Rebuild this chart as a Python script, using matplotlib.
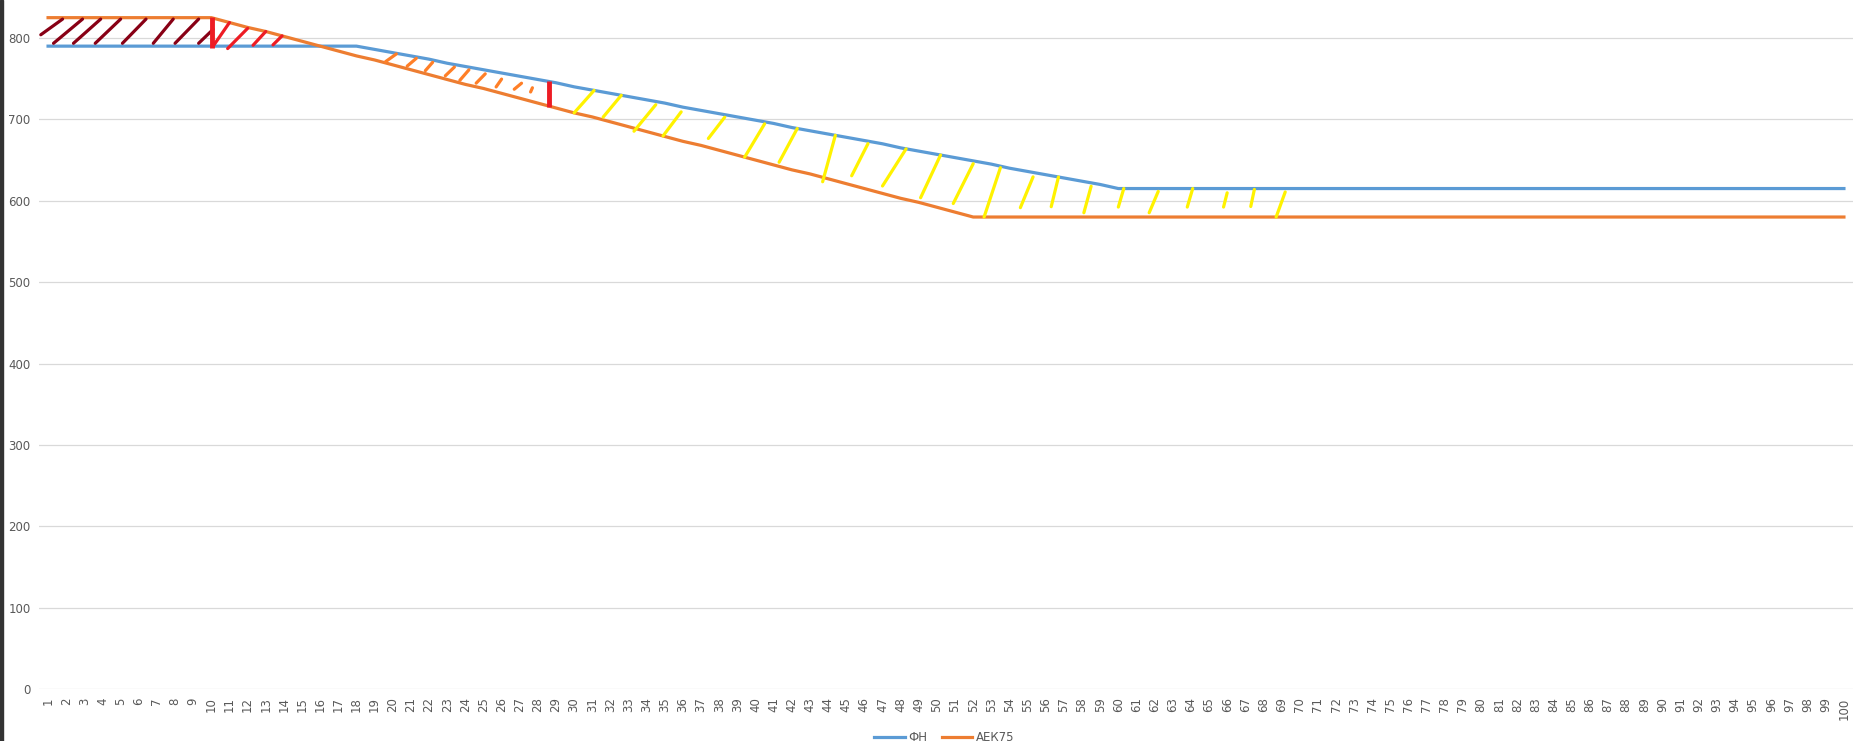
# ФН vs АЕК75 profile with hand-drawn hatching

import numpy as np
import matplotlib.pyplot as plt
from matplotlib.patches import Rectangle

cats = np.arange(1, 101)

# ФН (blue): flat, then sloping down, then flat
fn_vals = [790] * 18 + [
    786, 782, 778, 774, 769, 765, 761, 757, 753, 749, 745, 740, 736, 732,
    728, 724, 720, 715, 711, 707, 703, 699, 695, 690, 686, 682, 678, 674,
    670, 665, 661, 657, 653, 649, 645, 640, 636, 632, 628, 624, 620] + [615] * 41

# АЕК75 (orange)
aek_vals = [825] * 10 + [
    819, 813, 808, 802, 796, 790, 784, 778, 773, 767, 761, 755, 749, 743,
    738, 732, 726, 720, 714, 708, 703, 697, 691, 685, 679, 673, 668, 662,
    656, 650, 644, 638, 633, 627, 621, 615, 609, 603, 598, 592, 586] + [580] * 49

# hand-drawn strokes: category start/end, fraction between the two lines (0 lower, 1 upper)
darkred_x0 = [0.6, 1.3, 2.4, 3.6, 5.1, 6.8, 8.0, 9.3]
darkred_x1 = [1.8, 2.9, 3.9, 5.0, 6.4, 7.9, 9.3, 10.1]
darkred_f0 = [0.4, 0.1, 0.1, 0.1, 0.1, 0.1, 0.1, 0.1]
darkred_f1 = [0.95, 0.95, 0.95, 0.95, 0.95, 0.95, 0.95, 0.6]

red_x0 = [10.1, 10.9, 12.3, 13.4]
red_x1 = [11.0, 12.0, 13.0, 13.9]
red_f0 = [0.0, -0.1, 0.05, 0.1]
red_f1 = [1.0, 0.95, 1.0, 1.0]

orange_x0 = [19.6, 20.8, 21.8, 22.9, 23.7, 24.6, 25.7, 26.7, 27.6]
orange_x1 = [20.2, 21.3, 22.2, 23.4, 24.2, 25.1, 26.0, 27.1, 27.7]
orange_f0 = [0.1, 0.2, 0.2, 0.2, 0.15, 0.2, 0.25, 0.35, 0.4]
orange_f1 = [0.95, 0.9, 0.85, 0.85, 0.85, 0.8, 0.7, 0.7, 0.6]

yellow_x0 = [30.0, 31.6, 33.3, 34.9, 37.4, 39.4, 41.3, 43.7, 45.3, 47.0, 49.1,
             50.9, 52.6, 54.6, 56.3, 58.1, 60.0, 61.7, 63.8, 65.8, 67.3, 68.7]
yellow_x1 = [31.1, 32.6, 34.5, 35.9, 38.3, 40.5, 42.3, 44.4, 46.2, 48.3, 50.2,
             52.0, 53.5, 55.3, 56.7, 58.5, 60.3, 62.2, 64.1, 66.0, 67.5, 69.2]
yellow_f0 = [0, 0.1, -0.1, 0, 0.25, 0, 0.1, -0.1, 0.2, 0.15, 0.1,
             0.15, 0, 0.2, 0.25, 0.12, 0.35, 0.15, 0.35, 0.35, 0.37, 0]
yellow_f1 = [1, 1, 0.9, 0.85, 0.93, 0.95, 1, 1, 0.95, 1, 1,
             0.95, 0.97, 0.9, 1, 0.9, 1, 0.9, 1, 0.85, 0.97, 0.88]

# thick red vertical markers
mark_x = [10.05, 28.6]

fn = np.array(fn_vals, dtype=float)
aek = np.array(aek_vals, dtype=float)


def between(x, f):
    a = np.interp(x, cats, fn)
    b = np.interp(x, cats, aek)
    lo, hi = min(a, b), max(a, b)
    return lo + f * (hi - lo)


def draw_strokes(ax, x0s, x1s, f0s, f1s, color, lw=2.3):
    for x0, x1, f0, f1 in zip(x0s, x1s, f0s, f1s):
        ax.plot([x0, x1], [between(x0, f0), between(x1, f1)], color=color,
                lw=lw, solid_capstyle='round', zorder=4)


fig = plt.figure(figsize=(18.59, 7.41), dpi=100)
ax = fig.add_axes([39 / 1859, 52 / 741, 1814 / 1859, 689 / 741])

ax.plot(cats, fn, color='#5B9BD5', lw=2.3, label='ФН', zorder=3)
ax.plot(cats, aek, color='#ED7D31', lw=2.3, label='АЕК75', zorder=3)

draw_strokes(ax, darkred_x0, darkred_x1, darkred_f0, darkred_f1, '#880015')
draw_strokes(ax, red_x0, red_x1, red_f0, red_f1, '#ED1C24')
draw_strokes(ax, orange_x0, orange_x1, orange_f0, orange_f1, '#FF7F27')
draw_strokes(ax, yellow_x0, yellow_x1, yellow_f0, yellow_f1, '#FFF200')
for mx in mark_x:
    ax.plot([mx, mx], [between(mx, -0.05), between(mx, 1.02)], color='#ED1C24',
            lw=3.5, solid_capstyle='butt', zorder=5)

ax.set_xlim(0.5, 100.5)
ax.set_ylim(0, 846.7)
ax.set_yticks(range(0, 801, 100))
ax.set_xticks(cats)
ax.set_xticklabels([str(c) for c in cats], rotation=90)
ax.tick_params(axis='both', length=0, labelsize=8.5, labelcolor='#595959', pad=6)
ax.grid(axis='y', color='#D9D9D9', lw=0.9, zorder=0)
ax.set_axisbelow(True)
for s in ax.spines.values():
    s.set_visible(False)

fig.legend(loc='lower center', bbox_to_anchor=(0.508, -0.018), ncol=2, frameon=False,
           fontsize=8.5, handlelength=2.6, columnspacing=1.2, handletextpad=0.3,
           labelcolor='#595959')

# dark screen edge on the left
fig.add_artist(Rectangle((0, 0), 3 / 1859, 1, transform=fig.transFigure,
                         color='#333333', zorder=10))

fig.savefig('out.png', dpi=100, facecolor='white')
